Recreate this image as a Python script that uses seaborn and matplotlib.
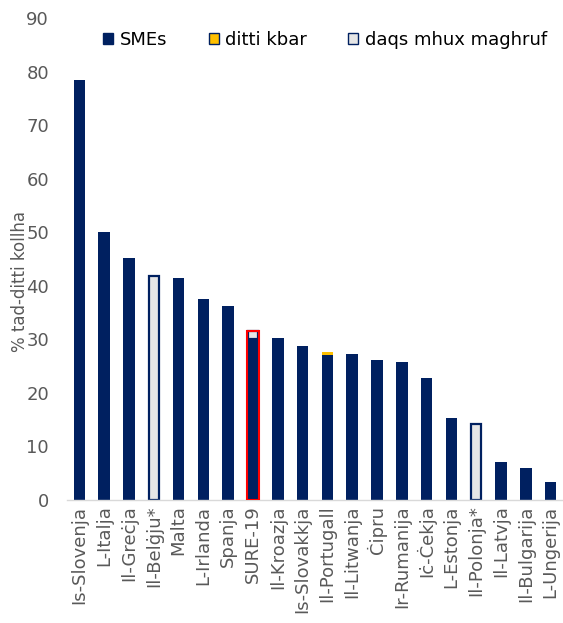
import matplotlib
matplotlib.use("Agg")
import matplotlib.pyplot as plt
import seaborn as sns
import numpy as np
from matplotlib.patches import Patch, Rectangle

countries = ["Is-Slovenja", "L-Italja", "Il-Greċja", "Il-Belġju*", "Malta", "L-Irlanda",
             "Spanja", "SURE-19", "Il-Kroazja", "Is-Slovakkja", "Il-Portugall", "Il-Litwanja",
             "Ċipru", "Ir-Rumanija", "Iċ-Ċekja", "L-Estonja", "Il-Polonja*", "Il-Latvja",
             "Il-Bulgarija", "L-Ungerija"]
smes = [78.5, 50.0, 45.2, 0.0, 41.5, 37.5, 36.3, 30.0, 30.3, 28.8, 27.0, 27.3,
        26.2, 25.8, 22.8, 15.3, 0.0, 7.1, 6.0, 3.4]
large = [0, 0, 0, 0, 0, 0, 0, 0, 0, 0, 0.7, 0, 0, 0, 0, 0, 0, 0, 0, 0]
unknown = [0, 0, 0, 41.8, 0, 0, 0, 1.6, 0, 0, 0, 0, 0, 0, 0, 0, 14.2, 0, 0, 0]
legend_labels = ["SMEs", "ditti kbar", "daqs mhux maghruf"]
ylabel = "% tad-ditti kollha"
highlight = "SURE-19"

navy = "#002060"
yellow = "#FFC000"
grey = "#E6E6E6"
red = "#FF0000"
txt = "#595959"

sns.set_theme(style="white")
plt.rcParams['font.family'] = ['DejaVu Sans']

fig = plt.figure(figsize=(5.63, 6.23), dpi=100)
ax = fig.add_axes([67/563, 1-500/623, (563-67)/563, (500-18)/623])

bw = 0.47
sns.barplot(x=countries, y=smes, color=navy, width=bw, saturation=1, ax=ax, linewidth=0)
pos = np.arange(len(countries))
sm = np.array(smes)
lg = np.array(large)
un = np.array(unknown)
ax.bar(pos, lg, bottom=sm, width=bw, color=yellow, linewidth=0)
mask = un > 0
ax.bar(pos[mask], un[mask], bottom=(sm + lg)[mask], width=bw - 0.06, color=grey,
       edgecolor=navy, linewidth=1.6)

# highlight outline
i = countries.index(highlight)
tot = sm[i] + lg[i] + un[i]
ax.add_patch(Rectangle((i - bw/2, 0), bw, tot, fill=False, edgecolor=red, linewidth=1.5, zorder=5))

ax.set_xlim(-0.5, len(countries) - 0.5)
ax.set_ylim(0, 90)
ax.set_yticks(range(0, 91, 10))
ax.tick_params(axis='y', length=0, labelsize=13, colors=txt, pad=13)
ax.tick_params(axis='x', length=0, labelsize=13, colors=txt, pad=4)
plt.setp(ax.get_xticklabels(), rotation=90)
for s in ["top", "right", "left"]:
    ax.spines[s].set_visible(False)
ax.spines["bottom"].set_color("#D9D9D9")
ax.spines["bottom"].set_linewidth(1.0)
ax.set_xlabel("")
ax.set_ylabel("")
fig.text(20/563, 1-282/623, ylabel, rotation=90, ha="center", va="center",
         fontsize=12, color=txt)

handles = [Patch(facecolor=navy, edgecolor=navy),
           Patch(facecolor=yellow, edgecolor=navy),
           Patch(facecolor=grey, edgecolor=navy)]
fig.legend(handles, legend_labels, loc="center", bbox_to_anchor=(325/563, 1-40/623),
           ncol=3, frameon=False, fontsize=13, handlelength=0.55, handleheight=0.55,
           handletextpad=0.35, columnspacing=2.3, labelcolor="#000000")

fig.savefig("out.png", dpi=100)
